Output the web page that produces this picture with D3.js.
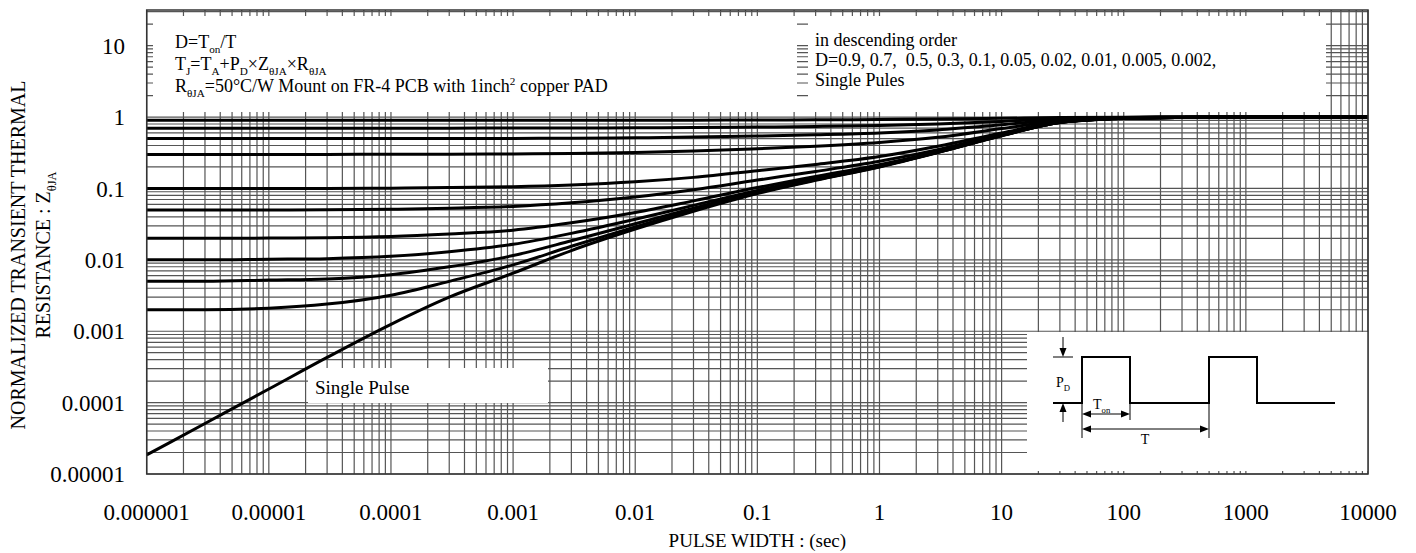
<!DOCTYPE html>
<html>
<head>
<meta charset="utf-8">
<script src="https://cdn.jsdelivr.net/npm/d3@7"></script>
<style>
  body { margin: 0; background: #fff; }
  text { font-family: "Liberation Serif", "Times New Roman", serif; fill: #000; }
</style>
</head>
<body>
<svg id="chart" width="1416" height="553"></svg>
<script>
const W = 1416, H = 553;
const margin = {left: 146.7, right: 1368, top: 10, bottom: 474};

// pulse width samples (sec)
const pulseWidth = [1e-6, 3e-6, 1e-5, 3e-5, 1e-4, 3e-4, 1e-3, 3e-3, 0.01, 0.03, 0.1, 0.3, 1, 3, 10, 30, 100, 300, 1000, 3000, 10000];

// normalized Z for each duty cycle
const zD09 = [0.9, 0.9, 0.9, 0.9, 0.9, 0.9, 0.9, 0.9, 0.902, 0.905, 0.91, 0.915, 0.925, 0.94, 0.96, 0.985, 0.995, 1, 1, 1, 1];
const zD07 = [0.7, 0.7, 0.7, 0.7, 0.7, 0.7, 0.702, 0.704, 0.708, 0.715, 0.725, 0.74, 0.76, 0.8, 0.87, 0.95, 0.99, 1, 1, 1, 1];
const zD05 = [0.5, 0.5, 0.5, 0.5, 0.5, 0.501, 0.503, 0.507, 0.513, 0.524, 0.542, 0.565, 0.6, 0.66, 0.78, 0.92, 0.98, 1, 1, 1, 1];
const zD03 = [0.3, 0.3, 0.3, 0.3, 0.301, 0.302, 0.305, 0.31, 0.319, 0.334, 0.36, 0.39, 0.44, 0.52, 0.69, 0.89, 0.97, 0.995, 1, 1, 1];
const zD01 = [0.1, 0.1, 0.1, 0.1, 0.101, 0.103, 0.106, 0.112, 0.124, 0.143, 0.177, 0.217, 0.28, 0.39, 0.6, 0.86, 0.965, 0.99, 1, 1, 1];
const zD005 = [0.05, 0.05, 0.05, 0.0504, 0.0512, 0.0528, 0.056, 0.063, 0.076, 0.096, 0.131, 0.173, 0.24, 0.35, 0.575, 0.85, 0.96, 0.99, 1, 1, 1];
const zD002 = [0.02, 0.02, 0.0202, 0.0204, 0.0212, 0.023, 0.026, 0.033, 0.046, 0.067, 0.103, 0.147, 0.215, 0.33, 0.56, 0.845, 0.96, 0.99, 1, 1, 1];
const zD001 = [0.01, 0.01, 0.0102, 0.0104, 0.0112, 0.013, 0.0165, 0.0235, 0.037, 0.058, 0.094, 0.139, 0.208, 0.325, 0.555, 0.842, 0.96, 0.99, 1, 1, 1];
const zD0005 = [0.005, 0.005, 0.0052, 0.0054, 0.0062, 0.008, 0.0115, 0.0185, 0.032, 0.053, 0.09, 0.134, 0.204, 0.322, 0.552, 0.841, 0.96, 0.99, 1, 1, 1];
const zD0002 = [0.002, 0.002, 0.0021, 0.0024, 0.0032, 0.005, 0.0085, 0.0155, 0.029, 0.05, 0.087, 0.132, 0.202, 0.32, 0.55, 0.84, 0.96, 0.99, 1, 1, 1];
const zSingle = [1.85e-5, 5.1e-5, 1.55e-4, 4.3e-4, 1.25e-3, 3.0e-3, 6.5e-3, 1.35e-2, 2.7e-2, 4.8e-2, 0.085, 0.13, 0.2, 0.318, 0.548, 0.838, 0.96, 0.99, 1, 1, 1];

const curves = [zD09, zD07, zD05, zD03, zD01, zD005, zD002, zD001, zD0005, zD0002, zSingle];

const xTickVals = [1e-6, 1e-5, 1e-4, 1e-3, 1e-2, 0.1, 1, 10, 100, 1000, 10000];
const xTickText = ["0.000001", "0.00001", "0.0001", "0.001", "0.01", "0.1", "1", "10", "100", "1000", "10000"];
const yTickVals = [1e-5, 1e-4, 1e-3, 1e-2, 0.1, 1, 10];
const yTickText = ["0.00001", "0.0001", "0.001", "0.01", "0.1", "1", "10"];

const svg = d3.select("#chart");

const x = d3.scaleLog().domain([1e-6, 1e4]).range([margin.left, margin.right]);
const y = d3.scaleLog().domain([1e-5, Math.pow(10, 1.5)]).range([margin.bottom, margin.top]);

// log grid
const xGrid = [];
for (let d = -6; d <= 3; d++) for (let m = 1; m <= 9; m++) xGrid.push(m * Math.pow(10, d));
xGrid.push(1e4);
const yGrid = [];
for (let d = -5; d <= 1; d++) for (let m = 1; m <= 9; m++) {
  const v = m * Math.pow(10, d);
  if (v < Math.pow(10, 1.5)) yGrid.push(v);
}

const grid = svg.append("g").attr("stroke", "#555").attr("stroke-width", 1.2);
grid.selectAll("line.v").data(xGrid).enter().append("line")
  .attr("x1", d => x(d)).attr("x2", d => x(d))
  .attr("y1", margin.top).attr("y2", margin.bottom);
grid.selectAll("line.h").data(yGrid).enter().append("line")
  .attr("x1", margin.left).attr("x2", margin.right)
  .attr("y1", d => y(d)).attr("y2", d => y(d));

// white boxes that hide the grid under the notes
const boxes = [
  [153, 16, 797, 112],
  [808, 16, 1326, 112],
  [1027, 332, margin.right, 471],
  [308, 368, 548, 403]
];
svg.append("g").selectAll("rect").data(boxes).enter().append("rect")
  .attr("x", d => d[0]).attr("y", d => d[1])
  .attr("width", d => d[2] - d[0]).attr("height", d => d[3] - d[1])
  .attr("fill", "#fff");

// curves
const line = d3.line()
  .x((d, i) => x(pulseWidth[i]))
  .y(d => y(d))
  .curve(d3.curveMonotoneX);
svg.append("g").selectAll("path").data(curves).enter().append("path")
  .attr("d", line)
  .attr("fill", "none")
  .attr("stroke", "#000")
  .attr("stroke-width", 3);

// frame
svg.append("rect")
  .attr("x", margin.left).attr("y", margin.top)
  .attr("width", margin.right - margin.left).attr("height", margin.bottom - margin.top)
  .attr("fill", "none").attr("stroke", "#333").attr("stroke-width", 1.5);

// tick labels
svg.append("g").selectAll("text").data(xTickVals).enter().append("text")
  .attr("x", d => x(d)).attr("y", 520)
  .attr("text-anchor", "middle")
  .style("font-size", "23px")
  .text((d, i) => xTickText[i]);
svg.append("g").selectAll("text").data(yTickVals).enter().append("text")
  .attr("x", 125).attr("y", d => y(d))
  .attr("dy", "0.35em")
  .attr("text-anchor", "end")
  .style("font-size", "23px")
  .text((d, i) => yTickText[i]);

// rich text helper: parts = [[text, "n" | "sub" | "sup"]]
function rich(g, px, py, parts, size, anchor) {
  const t = g.append("text").attr("x", px).attr("y", py)
    .style("font-size", size + "px");
  if (anchor) t.attr("text-anchor", anchor);
  let shift = 0;
  parts.forEach(p => {
    const want = p[1] === "sub" ? size * 0.28 : p[1] === "sup" ? -size * 0.38 : 0;
    const ts = t.append("tspan").attr("dy", want - shift).text(p[0]);
    if (p[1] !== "n") ts.style("font-size", (size * 0.62) + "px");
    shift = want;
  });
  return t;
}

const notes = svg.append("g");
rich(notes, 175, 48, [["D=T", "n"], ["on", "sub"], ["/T", "n"]], 18);
rich(notes, 175, 70, [["T", "n"], ["J", "sub"], ["=T", "n"], ["A", "sub"], ["+P", "n"], ["D", "sub"], ["\u00d7Z", "n"], ["\u03b8JA", "sub"], ["\u00d7R", "n"], ["\u03b8JA", "sub"]], 18);
rich(notes, 175, 92, [["R", "n"], ["\u03b8JA", "sub"], ["=50\u00b0C/W Mount on FR-4 PCB with 1inch", "n"], ["2", "sup"], [" copper PAD", "n"]], 18);

notes.append("text").attr("x", 815).attr("y", 46).style("font-size", "18px").text("in descending order");
notes.append("text").attr("x", 815).attr("y", 66).style("font-size", "18px")
  .attr("xml:space", "preserve").text("D=0.9, 0.7,  0.5, 0.3, 0.1, 0.05, 0.02, 0.01, 0.005, 0.002,");
notes.append("text").attr("x", 815).attr("y", 86).style("font-size", "18px").text("Single Pules");

notes.append("text").attr("x", 315).attr("y", 394).style("font-size", "19px").text("Single Pulse");

// axis titles
svg.append("text").attr("x", x(Math.sqrt(1e-6 * 1e4))).attr("y", 547)
  .attr("text-anchor", "middle").style("font-size", "19px").text("PULSE WIDTH : (sec)");
const yt = svg.append("g").attr("transform", "translate(25,255) rotate(-90)");
yt.append("text").attr("text-anchor", "middle").style("font-size", "20px").text("NORMALIZED TRANSIENT THERMAL");
const yt2 = svg.append("g").attr("transform", "translate(50,255) rotate(-90)");
rich(yt2, 0, 0, [["RESISTANCE : Z", "n"], ["\u03b8JA", "sub"]], 20, "middle");

// pulse diagram in the inset
const pd = svg.append("g");
const lowY = 403, highY = 357;
pd.append("path")
  .attr("d", `M1053,${lowY} H1082 V${highY} H1130 V${lowY} H1209 V${highY} H1257 V${lowY} H1335`)
  .attr("fill", "none").attr("stroke", "#000").attr("stroke-width", 2);
const thin = pd.append("g").attr("stroke", "#000").attr("stroke-width", 1).attr("fill", "none");
thin.append("line").attr("x1", 1053).attr("x2", 1073).attr("y1", highY).attr("y2", highY);
thin.append("line").attr("x1", 1063).attr("x2", 1063).attr("y1", 337).attr("y2", highY - 6);
thin.append("line").attr("x1", 1063).attr("x2", 1063).attr("y1", lowY + 6).attr("y2", 422);
thin.append("line").attr("x1", 1082).attr("x2", 1082).attr("y1", lowY).attr("y2", 438);
thin.append("line").attr("x1", 1130).attr("x2", 1130).attr("y1", lowY).attr("y2", 420);
thin.append("line").attr("x1", 1209).attr("x2", 1209).attr("y1", lowY).attr("y2", 438);
thin.append("line").attr("x1", 1088).attr("x2", 1124).attr("y1", 414).attr("y2", 414);
thin.append("line").attr("x1", 1088).attr("x2", 1203).attr("y1", 429).attr("y2", 429);
const heads = [
  [1063, highY, 0, 1], [1063, lowY, 0, -1],
  [1082, 414, -1, 0], [1130, 414, 1, 0],
  [1082, 429, -1, 0], [1209, 429, 1, 0]
];
pd.append("g").selectAll("path").data(heads).enter().append("path")
  .attr("d", d => {
    const [hx, hy, dx, dy] = d, L = 9, w = 3.5;
    const bx = hx - dx * L, by = hy - dy * L;
    return `M${hx},${hy} L${bx - dy * w},${by - dx * w} L${bx + dy * w},${by + dx * w} Z`;
  })
  .attr("fill", "#000");
rich(pd, 1056, 387, [["P", "n"], ["D", "sub"]], 14);
rich(pd, 1093, 409, [["T", "n"], ["on", "sub"]], 14);
pd.append("text").attr("x", 1145).attr("y", 444).style("font-size", "14px").attr("text-anchor", "middle").text("T");
</script>
</body>
</html>
